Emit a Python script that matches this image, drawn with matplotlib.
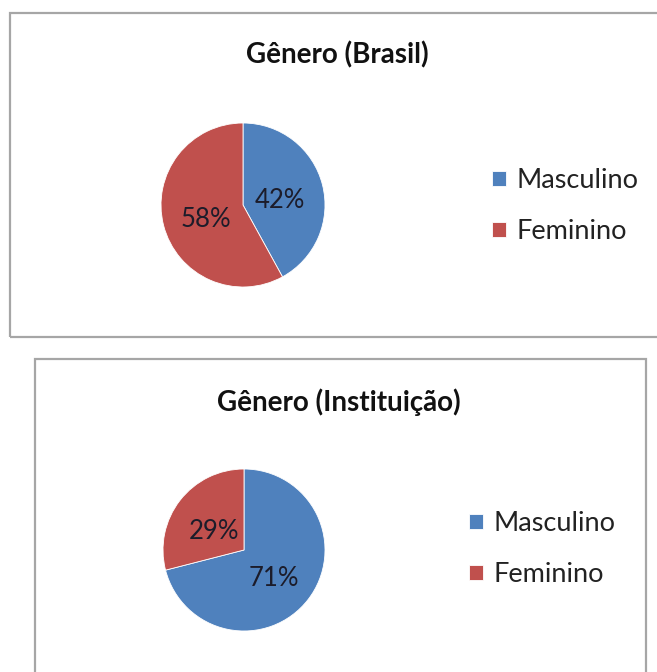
import matplotlib
matplotlib.use("Agg")
import matplotlib.pyplot as plt
from matplotlib.patches import Rectangle
import numpy as np

plt.rcParams['font.family'] = ['Lato', 'DejaVu Sans']

categories = ["Masculino", "Feminino"]
brasil_values = [42, 58]
inst_values = [71, 29]
titles = ["Gênero (Brasil)", "Gênero (Instituição)"]
colors = ["#4F81BD", "#C0504D"]

W, H = 657, 672
fig = plt.figure(figsize=(W / 100, H / 100), dpi=100)
fig.patch.set_facecolor("white")


def fx(px):
    return px / W


def fy(py):
    return 1 - py / H


# frames
fig.patches.append(Rectangle((fx(10), fy(337)), fx(700) - fx(10), fy(13) - fy(337),
                             transform=fig.transFigure, fill=False,
                             edgecolor="#A6A6A6", linewidth=1.6))
fig.patches.append(Rectangle((fx(35), fy(700)), fx(646) - fx(35), fy(359) - fy(700),
                             transform=fig.transFigure, fill=False,
                             edgecolor="#A6A6A6", linewidth=1.6))

panels = [
    dict(values=brasil_values, title=titles[0], cx=243, cy=205, r=82,
         tx=337, ty=55, lx=492, ly=206),
    dict(values=inst_values, title=titles[1], cx=244, cy=550, r=81,
         tx=339, ty=402, lx=469, ly=549),
]

for p in panels:
    r = p["r"]
    ax = fig.add_axes([fx(p["cx"] - r), fy(p["cy"] + r), 2 * r / W, 2 * r / H])
    wedges, texts = ax.pie(p["values"], colors=colors, startangle=90, counterclock=False,
                           radius=1, wedgeprops=dict(edgecolor="white", linewidth=0.6))
    ax.set_xlim(-1, 1)
    ax.set_ylim(-1, 1)
    ax.set_aspect("auto")
    ax.axis("off")
    for w, v in zip(wedges, p["values"]):
        mid = np.deg2rad((w.theta1 + w.theta2) / 2)
        ax.text(0.47 * np.cos(mid), 0.47 * np.sin(mid) - 0.06, f"{v}%", ha="center",
                va="center", fontsize=18.5, color="#1c1c2a")
    fig.text(fx(p["tx"]), fy(p["ty"]), p["title"], ha="center", va="center",
             fontsize=20, fontweight="bold", color="#111111")
    fig.legend(wedges, categories, loc="center left",
               bbox_to_anchor=(fx(p["lx"]), fy(p["ly"])), bbox_transform=fig.transFigure,
               frameon=False, fontsize=19.5, handlelength=0.5, handleheight=0.5,
               handletextpad=0.42, labelspacing=0.95, borderpad=0, borderaxespad=0,
               labelcolor="#222222")

fig.savefig("out.png", dpi=100, facecolor="white")
